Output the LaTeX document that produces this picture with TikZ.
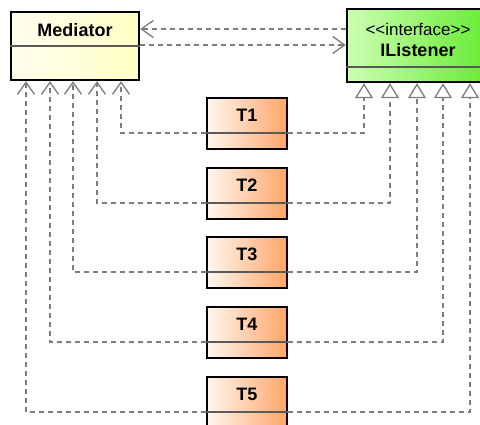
\documentclass[tikz,border=0pt]{standalone}
\usepackage{fontspec}
\setmainfont{Liberation Sans}
\usepackage{tikz}
\usetikzlibrary{arrows.meta,calc,positioning}
\definecolor{medlo}{RGB}{255,255,238}
\definecolor{medhi}{RGB}{255,255,196}
\definecolor{ifclo}{RGB}{205,255,178}
\definecolor{ifchi}{RGB}{100,236,48}
\definecolor{tlo}{RGB}{255,246,238}
\definecolor{thi}{RGB}{255,166,104}
\definecolor{dep}{RGB}{125,125,125}

\begin{document}
\begin{tikzpicture}[x=1pt,y=-1pt,
  box/.style={draw,line width=2.4pt,inner sep=0pt},
  sepln/.style={line width=1.2pt,black!65},
  dashln/.style={dep,line width=1.6pt,dash pattern=on 5pt off 4pt},
  vtip/.style={-{Straight Barb[length=12pt,width=17pt,line width=1.3pt]}},
  ttip/.style={-{Triangle[length=15pt,width=18pt,fill=white,line width=1.3pt]}},
  lbl/.style={font=\bfseries\fontsize{18}{20}\selectfont}]
  \useasboundingbox (0,0) rectangle (480,425);
  \clip (0,0) rectangle (480,425);
  % Mediator
  \node[box,left color=medlo,right color=medhi,minimum width=128pt,minimum height=68pt] (med) at (75,46) {};
  \draw[sepln] (med.west) -- (med.east);
  \node[lbl] (medlbl) at (75,30) {Mediator};
  % IListener
  \node[box,left color=ifclo,right color=ifchi,minimum width=142pt,minimum height=73pt] (ifc) at (418,45.5) {};
  \draw[sepln] (ifc.west |- 0,67) -- (ifc.east |- 0,67);
  \node[font=\fontsize{17}{19}\selectfont] (ifcst) at (418,29) {<{}<interface>{}>};
  \node[lbl] (ifclbl) at (418,50) {IListener};
  % both ways
  \draw[dashln,vtip] (ifc.west |- 0,29) -- (med.east |- 0,29);
  \draw[dashln,vtip] (med.east |- 0,45) -- (ifc.west |- 0,45);
  % T1 ... T5
  \foreach \i/\ty/\xl/\xr in {1/98/121/364,2/168/97/390,3/237/73/417,4/307/50/443,5/377/26/470} {
    \node[box,left color=tlo,right color=thi,minimum width=80pt,minimum height=51pt] (T\i) at (247,\ty+25.5) {};
    \coordinate (d\i) at (247,\ty+35);
    \draw[sepln] (T\i.west |- d\i) -- (T\i.east |- d\i);
    \node[lbl] (T\i lbl) at (247,\ty+17.5) {T\i};
    \coordinate (m\i) at (\xl,0 |- med.south);
    \coordinate (n\i) at (\xr,0 |- ifc.south);
    \draw[dashln,vtip] (T\i.west |- d\i) -| (m\i);
    \draw[dashln,ttip] (T\i.east |- d\i) -| (n\i);
  }
\end{tikzpicture}
\end{document}
